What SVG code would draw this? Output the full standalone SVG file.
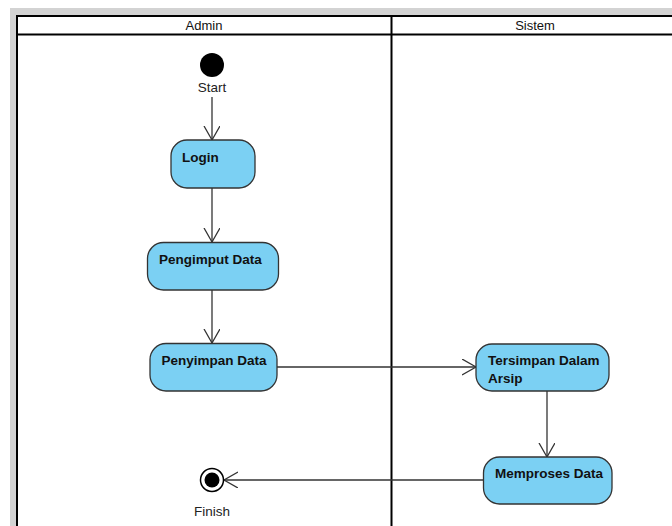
<svg xmlns="http://www.w3.org/2000/svg" width="672" height="526" viewBox="0 0 672 526">
<style>
.lane{fill:#fff;stroke:#000;stroke-width:2}
.act{fill:#7bd0f3;stroke:#333;stroke-width:1.3}
.lbl{font-family:"Liberation Sans",Arial,sans-serif;font-size:13.5px;font-weight:bold;fill:#111}
.hdr{font-family:"Liberation Sans",Arial,sans-serif;font-size:13px;fill:#111;text-anchor:middle}
.cap{font-family:"Liberation Sans",Arial,sans-serif;font-size:13.5px;fill:#222;text-anchor:middle}
.edge{fill:none;stroke:#333;stroke-width:1.3}
</style>
<defs>
<marker id="open" markerWidth="16" markerHeight="18" refX="14" refY="8" orient="auto" markerUnits="userSpaceOnUse">
<path d="M0,0 L14,8 L0,16" fill="none" stroke="#333" stroke-width="1.3"/>
</marker>
</defs>
<rect x="0" y="0" width="672" height="526" fill="#fff"/>
<rect x="10" y="8" width="700" height="560" fill="#d3d3d3"/>
<g id="swimlanes">
<rect class="lane" x="17" y="16" width="700" height="560"/>
<line x1="17" y1="34.5" x2="717" y2="34.5" stroke="#000" stroke-width="2"/>
<line x1="391.5" y1="16" x2="391.5" y2="576" stroke="#000" stroke-width="2"/>
<text class="hdr" x="204" y="30">Admin</text>
<text class="hdr" x="535" y="30">Sistem</text>
</g>
<g id="connectors">
<line class="edge" x1="212" y1="97" x2="212" y2="140" marker-end="url(#open)"/>
<line class="edge" x1="212" y1="188" x2="212" y2="242" marker-end="url(#open)"/>
<line class="edge" x1="212" y1="290" x2="212" y2="343" marker-end="url(#open)"/>
<line class="edge" x1="277" y1="367" x2="476" y2="367" marker-end="url(#open)"/>
<line class="edge" x1="547" y1="391" x2="547" y2="457" marker-end="url(#open)"/>
<line class="edge" x1="483" y1="480" x2="224" y2="480" marker-end="url(#open)"/>
</g>
<g id="start">
<circle cx="212" cy="65" r="12" fill="#000"/>
<text class="cap" x="212" y="92">Start</text>
</g>
<g id="login">
<rect class="act" x="171" y="140" width="84" height="48" rx="16"/>
<text class="lbl" x="182" y="162">Login</text>
</g>
<g id="pengimput">
<rect class="act" x="147.5" y="242.5" width="131" height="47.5" rx="16"/>
<text class="lbl" x="159" y="264">Pengimput Data</text>
</g>
<g id="penyimpan">
<rect class="act" x="150" y="343.5" width="127" height="47.5" rx="16"/>
<text class="lbl" x="161.5" y="365">Penyimpan Data</text>
</g>
<g id="tersimpan">
<rect class="act" x="476" y="344" width="133" height="47" rx="16"/>
<text class="lbl" x="488" y="365">Tersimpan Dalam</text>
<text class="lbl" x="488" y="383">Arsip</text>
</g>
<g id="memproses">
<rect class="act" x="483.5" y="457" width="128.5" height="47" rx="16"/>
<text class="lbl" x="495" y="478">Memproses Data</text>
</g>
<g id="finish">
<circle cx="212" cy="480" r="11.5" fill="#fff" stroke="#000" stroke-width="1.5"/>
<circle cx="212" cy="480" r="7.5" fill="#000"/>
<text class="cap" x="212" y="516">Finish</text>
</g>
</svg>
